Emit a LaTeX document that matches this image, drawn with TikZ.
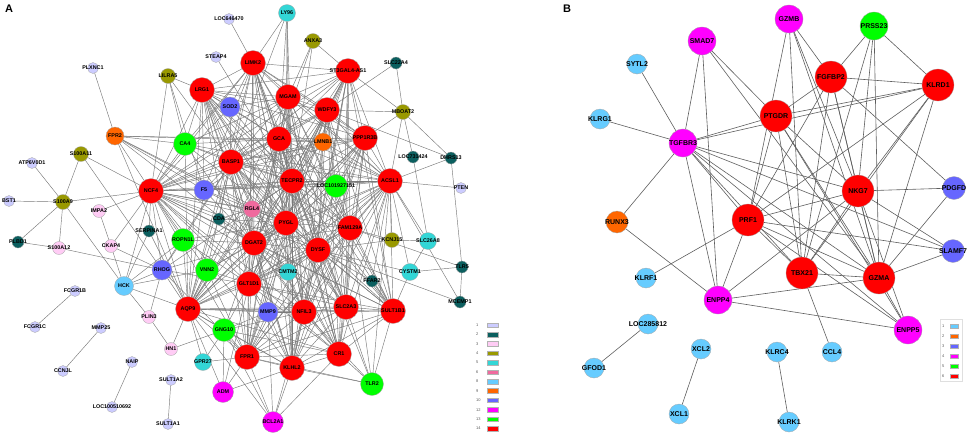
\documentclass[tikz,border=0pt]{standalone}
\usepackage{fontspec}
\setmainfont{Liberation Sans}
\usetikzlibrary{backgrounds}
\definecolor{cA1}{HTML}{CCCCFF}
\definecolor{cA2}{HTML}{0B5F5F}
\definecolor{cA3}{HTML}{FFCCF5}
\definecolor{cA4}{HTML}{999900}
\definecolor{cA5}{HTML}{33D6D6}
\definecolor{cA6}{HTML}{F06A9E}
\definecolor{cA8}{HTML}{66CCFF}
\definecolor{cA9}{HTML}{FF6600}
\definecolor{cA10}{HTML}{6666FF}
\definecolor{cA12}{HTML}{FF00FF}
\definecolor{cA13}{HTML}{00FF00}
\definecolor{cA14}{HTML}{FF0000}
\definecolor{edgeAc}{HTML}{7A7A7A}
\definecolor{edgeBc}{HTML}{5E5E5E}
\newcommand\gnA[5]{\node[#4, label={[lA]center:#5}] (#1) at (#2,#3) {};}
\newcommand\gnB[5]{\node[#4, label={[lB]center:#5}] (#1) at (#2,#3) {};}
\begin{document}
\begin{tikzpicture}[x=1pt,y=-1pt,
  gn/.style={circle, draw=gray!70, line width=0.3pt, inner sep=0pt, outer sep=0pt},
  a1/.style={gn, fill=cA1, minimum size=11pt},
  a2/.style={gn, fill=cA2, minimum size=12pt},
  a3/.style={gn, fill=cA3, minimum size=13pt},
  a4/.style={gn, fill=cA4, minimum size=15pt},
  a5/.style={gn, fill=cA5, minimum size=17pt},
  a6/.style={gn, fill=cA6, minimum size=17pt},
  a8/.style={gn, fill=cA8, minimum size=19pt},
  a9/.style={gn, fill=cA9, minimum size=18pt},
  a10/.style={gn, fill=cA10, minimum size=20pt},
  a12/.style={gn, fill=cA12, minimum size=21pt},
  a13/.style={gn, fill=cA13, minimum size=23pt},
  a14/.style={gn, fill=cA14, minimum size=25pt},
  b1/.style={gn, fill=cA8, minimum size=20pt},
  b2/.style={gn, fill=cA9, minimum size=22pt},
  b3/.style={gn, fill=cA10, minimum size=23pt},
  b4/.style={gn, fill=cA12, minimum size=28pt},
  b5/.style={gn, fill=cA13, minimum size=28pt},
  b6/.style={gn, fill=cA14, minimum size=32pt},
  lA/.style={font=\fontsize{5.4}{5.4}\selectfont\bfseries, inner sep=0pt, text=black},
  lB/.style={font=\fontsize{7}{7}\selectfont\bfseries, inner sep=0pt, text=black},
  edA/.style={draw=edgeAc, line width=0.45pt},
  edB/.style={draw=edgeBc, line width=0.6pt},
  legtxt/.style={font=\fontsize{4}{4}\selectfont, text=gray!70!black, inner sep=0pt},
  legsw/.style={draw=gray!60, line width=0.2pt, minimum width=11pt, minimum height=4.5pt, inner sep=0pt},
  panel/.style={font=\fontsize{11}{11}\selectfont\bfseries, inner sep=0pt}
]
\useasboundingbox (0,0) rectangle (970,437);
\node[panel] (pA) at (9,9) {A};
\node[panel] (pB) at (567,9) {B};
% ---------------- Panel A nodes ----------------
\gnA{loc646470}{229}{19}{a1}{LOC646470}
\gnA{steap4}{216}{57}{a1}{STEAP4}
\gnA{plxnc1}{93}{68}{a1}{PLXNC1}
\gnA{atp6v0d1}{32}{163}{a1}{ATP6V0D1}
\gnA{bst1}{9}{201}{a1}{BST1}
\gnA{pten}{461}{188}{a1}{PTEN}
\gnA{fcgr1b}{75}{291}{a1}{FCGR1B}
\gnA{fcgr1c}{35}{327}{a1}{FCGR1C}
\gnA{mmp25}{101}{328}{a1}{MMP25}
\gnA{ccnjl}{63}{371}{a1}{CCNJL}
\gnA{naip}{132}{362}{a1}{NAIP}
\gnA{sult1a2}{171}{380}{a1}{SULT1A2}
\gnA{loc100510692}{112}{407}{a1}{LOC100510692}
\gnA{sult1a1}{168}{424}{a1}{SULT1A1}
\gnA{slc22a4}{396}{63}{a2}{SLC22A4}
\gnA{loc731424}{413}{157}{a2}{LOC731424}
\gnA{dhrs13}{451}{158}{a2}{DHRS13}
\gnA{serpina1}{149}{231}{a2}{SERPINA1}
\gnA{cda}{219}{219}{a2}{CDA}
\gnA{plbd1}{18}{242}{a2}{PLBD1}
\gnA{ffar2}{372}{281}{a2}{FFAR2}
\gnA{tlr5}{462}{267}{a2}{TLR5}
\gnA{mcemp1}{460}{302}{a2}{MCEMP1}
\gnA{impa2}{99}{211}{a3}{IMPA2}
\gnA{s100a12}{59}{248}{a3}{S100A12}
\gnA{ckap4}{111}{246}{a3}{CKAP4}
\gnA{plin3}{149}{317}{a3}{PLIN3}
\gnA{hn1}{171}{349}{a3}{HN1}
\gnA{anxa3}{313}{41}{a4}{ANXA3}
\gnA{lilra5}{168}{76}{a4}{LILRA5}
\gnA{mboat2}{403}{112}{a4}{MBOAT2}
\gnA{s100a11}{81}{154}{a4}{S100A11}
\gnA{s100a9}{63}{202}{a4}{S100A9}
\gnA{kcnj15}{392}{240}{a4}{KCNJ15}
\gnA{ly96}{287}{13}{a5}{LY96}
\gnA{slc26a8}{428}{241}{a5}{SLC26A8}
\gnA{cystm1}{410}{272}{a5}{CYSTM1}
\gnA{cmtm2}{288}{272}{a5}{CMTM2}
\gnA{gpr27}{203}{362}{a5}{GPR27}
\gnA{rgl4}{252}{209}{a6}{RGL4}
\gnA{hck}{124}{286}{a8}{HCK}
\gnA{fpr2}{115}{136}{a9}{FPR2}
\gnA{lmnb1}{323}{142}{a9}{LMNB1}
\gnA{sod2}{230}{107}{a10}{SOD2}
\gnA{f5}{204}{190}{a10}{F5}
\gnA{rhog}{162}{270}{a10}{RHOG}
\gnA{mmp9}{268}{312}{a10}{MMP9}
\gnA{adm}{223}{392}{a12}{ADM}
\gnA{bcl2a1}{273}{422}{a12}{BCL2A1}
\gnA{ca4}{185}{144}{a13}{CA4}
\gnA{loc101927151}{336}{186}{a13}{LOC101927151}
\gnA{ropn1l}{183}{240}{a13}{ROPN1L}
\gnA{vnn2}{207}{270}{a13}{VNN2}
\gnA{gng10}{224}{330}{a13}{GNG10}
\gnA{tlr2}{372}{384}{a13}{TLR2}
\gnA{limk2}{253}{63}{a14}{LIMK2}
\gnA{st3gal}{348}{71}{a14}{ST3GAL4-AS1}
\gnA{lrg1}{202}{90}{a14}{LRG1}
\gnA{mgam}{288}{97}{a14}{MGAM}
\gnA{wdfy3}{327}{110}{a14}{WDFY3}
\gnA{ppp1r3b}{365}{138}{a14}{PPP1R3B}
\gnA{gca}{279}{139}{a14}{GCA}
\gnA{basp1}{231}{162}{a14}{BASP1}
\gnA{ncf4}{151}{191}{a14}{NCF4}
\gnA{tecpr2}{292}{181}{a14}{TECPR2}
\gnA{acsl1}{390}{181}{a14}{ACSL1}
\gnA{pygl}{286}{223}{a14}{PYGL}
\gnA{fam129a}{350}{228}{a14}{FAM129A}
\gnA{dgat2}{254}{243}{a14}{DGAT2}
\gnA{dysf}{318}{250}{a14}{DYSF}
\gnA{glt1d1}{249}{284}{a14}{GLT1D1}
\gnA{aqp9}{188}{309}{a14}{AQP9}
\gnA{nfil3}{304}{312}{a14}{NFIL3}
\gnA{slc2a3}{346}{307}{a14}{SLC2A3}
\gnA{sult1b1}{393}{311}{a14}{SULT1B1}
\gnA{fpr1}{247}{357}{a14}{FPR1}
\gnA{klhl2}{292}{368}{a14}{KLHL2}
\gnA{cr1}{339}{354}{a14}{CR1}
% legend A
\foreach \lab/\col [count=\k from 0] in {1/cA1,2/cA2,3/cA3,4/cA4,5/cA5,6/cA6,8/cA8,9/cA9,10/cA10,12/cA12,13/cA13,14/cA14}{
  \node[legtxt, anchor=west] (lat\k) at (476,{325+\k*9.4}) {\lab};
  \node[legsw, fill=\col] (las\k) at (493,{325+\k*9.4}) {};
}
% ---------------- Panel B nodes ----------------
\gnB{sytl2}{637}{64}{b1}{SYTL2}
\gnB{klrg1}{600}{119}{b1}{KLRG1}
\gnB{klrf1}{646}{278}{b1}{KLRF1}
\gnB{loc285812}{648}{324}{b1}{LOC285812}
\gnB{gfod1}{594}{368}{b1}{GFOD1}
\gnB{xcl2}{701}{349}{b1}{XCL2}
\gnB{xcl1}{679}{414}{b1}{XCL1}
\gnB{klrc4}{777}{352}{b1}{KLRC4}
\gnB{klrk1}{789}{422}{b1}{KLRK1}
\gnB{ccl4}{832}{352}{b1}{CCL4}
\gnB{runx3}{617}{222}{b2}{RUNX3}
\gnB{pdgfd}{954}{188}{b3}{PDGFD}
\gnB{slamf7}{953}{251}{b3}{SLAMF7}
\gnB{gzmb}{789}{19}{b4}{GZMB}
\gnB{smad7}{702}{41}{b4}{SMAD7}
\gnB{tgfbr3}{683}{143}{b4}{TGFBR3}
\gnB{enpp4}{718}{300}{b4}{ENPP4}
\gnB{enpp5}{908}{330}{b4}{ENPP5}
\gnB{prss23}{874}{26}{b5}{PRSS23}
\gnB{fgfbp2}{831}{77}{b6}{FGFBP2}
\gnB{klrd1}{938}{85}{b6}{KLRD1}
\gnB{ptgdr}{776}{116}{b6}{PTGDR}
\gnB{nkg7}{858}{191}{b6}{NKG7}
\gnB{prf1}{748}{220}{b6}{PRF1}
\gnB{tbx21}{802}{273}{b6}{TBX21}
\gnB{gzma}{879}{278}{b6}{GZMA}
% legend B
\node[draw=gray!25, line width=0.3pt, minimum width=22pt, minimum height=62pt, inner sep=0pt] (legB) at (951,350) {};
\foreach \lab/\col [count=\k from 0] in {1/cA8,2/cA9,3/cA10,4/cA12,5/cA13,6/cA14}{
  \node[legtxt, anchor=west] (lbt\k) at (942,{326+\k*10}) {\lab};
  \node[legsw, fill=\col, minimum width=8pt] (lbs\k) at (954,{326+\k*10}) {};
}
% ---------------- edges ----------------
\begin{pgfonlayer}{background}
\def\reds{limk2,st3gal,lrg1,mgam,wdfy3,ppp1r3b,gca,basp1,ncf4,tecpr2,acsl1,pygl,fam129a,dgat2,dysf,glt1d1,aqp9,nfil3,slc2a3,sult1b1,fpr1,klhl2,cr1}
\foreach \a [count=\i] in \reds {
  \foreach \b [count=\j] in \reds {
    \ifnum\j>\i \draw[edA] (\a) -- (\b); \fi
  }
}
\foreach \s/\ts in {
  ca4/{lrg1,limk2,mgam,gca,basp1,tecpr2,ncf4,pygl,dgat2,acsl1,aqp9,fpr2},
  f5/{ncf4,basp1,gca,tecpr2,pygl,dgat2,acsl1,dysf,aqp9,limk2,lrg1},
  sod2/{lrg1,limk2,mgam,gca,basp1,ncf4,tecpr2},
  lmnb1/{gca,wdfy3,ppp1r3b,tecpr2,basp1,acsl1,ncf4,dysf},
  loc101927151/{tecpr2,gca,acsl1,ppp1r3b,pygl,dysf,fam129a,ncf4,wdfy3,basp1},
  rgl4/{basp1,pygl,dgat2,tecpr2,ncf4,glt1d1,aqp9,gca},
  cda/{ncf4,basp1,pygl,dgat2,aqp9,rgl4},
  ropn1l/{ncf4,aqp9,basp1,dgat2,rhog,pygl,glt1d1},
  vnn2/{ncf4,aqp9,dgat2,glt1d1,pygl,basp1,fpr1},
  rhog/{ncf4,aqp9,basp1,dgat2,glt1d1,fpr1,tecpr2},
  cmtm2/{dgat2,pygl,dysf,glt1d1,nfil3,tecpr2,acsl1},
  mmp9/{aqp9,glt1d1,nfil3,fpr1,klhl2,dgat2,pygl},
  gng10/{aqp9,glt1d1,fpr1,klhl2,nfil3,mmp9,dgat2,cr1},
  plxnc1/{fpr2},
  loc646470/{limk2},
  steap4/{tecpr2},
  ly96/{mgam,gca,basp1,tecpr2,pygl,limk2},
  anxa3/{st3gal,gca,tecpr2,mgam},
  slc22a4/{wdfy3,mboat2},
  lilra5/{ncf4,lrg1,basp1,f5,ca4},
  fpr2/{gca,ncf4,f5,rgl4,dgat2,pygl,aqp9,lmnb1},
  s100a11/{s100a9,ncf4,rhog},
  atp6v0d1/{s100a9},
  bst1/{s100a9},
  s100a9/{ncf4,plbd1,s100a12,hck},
  impa2/{ckap4,ncf4},
  ckap4/{hck,rhog,ncf4},
  s100a12/{rhog,plbd1},
  serpina1/{hck,ncf4,aqp9},
  hck/{rhog,aqp9,plin3,ncf4,ropn1l,vnn2},
  plin3/{rhog,hn1},
  hn1/{aqp9,gng10},
  fcgr1b/{fcgr1c},
  mmp25/{ccnjl},
  naip/{loc100510692},
  sult1a2/{sult1a1},
  gpr27/{aqp9,gng10,fpr1},
  adm/{aqp9,gng10,fpr1,klhl2,glt1d1},
  bcl2a1/{fpr1,klhl2,gng10,cr1,aqp9,nfil3,mmp9},
  tlr2/{cr1,sult1b1,slc2a3,nfil3,klhl2,dysf,fam129a,acsl1,fpr1},
  mboat2/{wdfy3,ppp1r3b,acsl1,st3gal,dhrs13,loc731424},
  wdfy3/{dhrs13},
  loc731424/{slc26a8},
  dhrs13/{acsl1,tlr5},
  pten/{acsl1},
  kcnj15/{acsl1,slc26a8,dysf,fam129a},
  slc26a8/{acsl1,cystm1},
  cystm1/{tlr5,sult1b1,dysf,acsl1},
  ffar2/{acsl1,dysf,sult1b1},
  tlr5/{mcemp1,fam129a},
  mcemp1/{acsl1,dysf}}{
  \foreach \t in \ts {\draw[edA] (\s) -- (\t);}
}
\foreach \s/\ts in {
  sytl2/{tgfbr3},
  klrg1/{tgfbr3},
  smad7/{tgfbr3,enpp4,ptgdr,gzma},
  gzmb/{prf1,tbx21,fgfbp2,nkg7,gzma},
  prss23/{fgfbp2,klrd1,nkg7,gzma,tbx21},
  fgfbp2/{klrd1,ptgdr,nkg7,gzma,tbx21,prf1,pdgfd},
  klrd1/{ptgdr,prf1,nkg7,tbx21,gzma,tgfbr3},
  ptgdr/{tgfbr3,prf1,tbx21,nkg7,gzma,enpp5},
  tgfbr3/{runx3,nkg7,prf1,tbx21,gzma,enpp4,slamf7,enpp5},
  runx3/{enpp4},
  klrf1/{prf1},
  prf1/{nkg7,tbx21,gzma,enpp5,slamf7,enpp4},
  nkg7/{pdgfd,slamf7,gzma,tbx21,enpp4,enpp5},
  tbx21/{gzma,ccl4},
  gzma/{slamf7,pdgfd,enpp5,enpp4},
  enpp4/{enpp5},
  loc285812/{gfod1},
  xcl2/{xcl1},
  klrc4/{klrk1}}{
  \foreach \t in \ts {\draw[edB] (\s) -- (\t);}
}
\end{pgfonlayer}
\end{tikzpicture}
\end{document}
